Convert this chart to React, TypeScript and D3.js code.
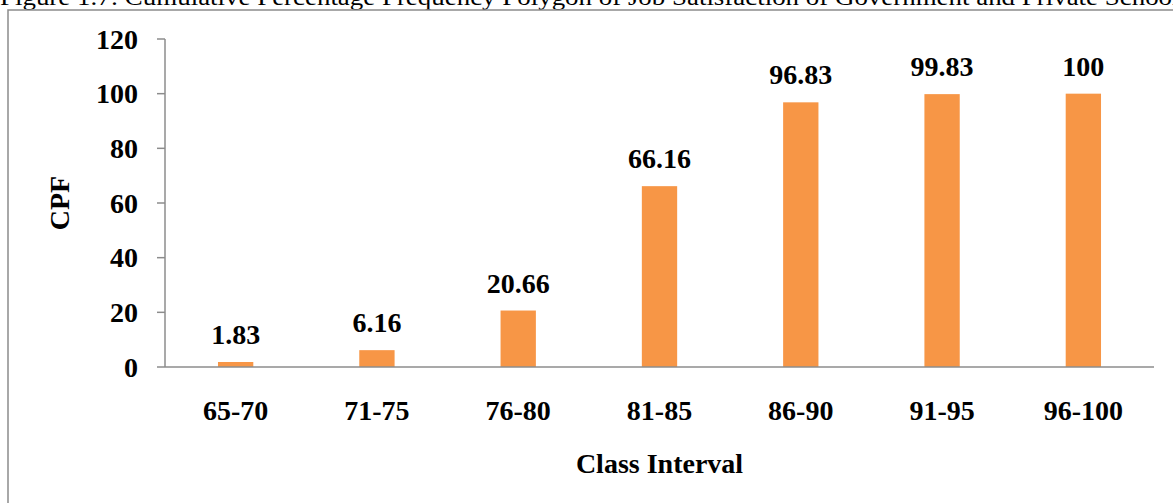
import React from "react";
import * as d3 from "d3";

const categories = ["65-70", "71-75", "76-80", "81-85", "86-90", "91-95", "96-100"];
const values = [1.83, 6.16, 20.66, 66.16, 96.83, 99.83, 100];
const valueLabels = ["1.83", "6.16", "20.66", "66.16", "96.83", "99.83", "100"];
const yTicks = [0, 20, 40, 60, 80, 100, 120];
const titleText =
  "Figure 1.7: Cumulative Percentage Frequency Polygon of Job Satisfaction of Government and Private Schools";
const xTitle = "Class Interval";
const yTitle = "CPF";

const W = 1173;
const H = 503;
const left = 165;
const right = 1154;
const top = 39;
const bottom = 367;
const font = "'Liberation Serif', 'Times New Roman', serif";
const axisColor = "#8c8c8c";
const barColor = "#F79646";

export default function App() {
  const x = d3
    .scaleBand<string>()
    .domain(categories)
    .range([left, right])
    .paddingInner(0.75)
    .paddingOuter(0.375);
  const y = d3.scaleLinear().domain([0, 120]).range([bottom, top]);

  return (
    <svg
      width={W}
      height={H}
      style={{ position: "absolute", left: 0, top: 0, background: "#fff" }}
      fontFamily={font}
    >
      <rect x={0} y={0} width={W} height={H} fill="#fff" />
      <text x={0} y={5} fontSize={24} fill="#000" textLength={1190} lengthAdjust="spacingAndGlyphs">
        {titleText}
      </text>
      <rect x={8} y={10} width={W + 20} height={H + 20} fill="none" stroke={axisColor} strokeWidth={1.5} />

      {/* y axis */}
      <line x1={left} x2={left} y1={y(120)} y2={y(0)} stroke={axisColor} strokeWidth={1.5} />
      {yTicks.map((t) => (
        <g key={t}>
          <line x1={left - 8} x2={left} y1={y(t)} y2={y(t)} stroke={axisColor} strokeWidth={1.5} />
          <text
            x={138}
            y={y(t) + 9.5}
            textAnchor="end"
            fontSize={28}
            fontWeight="bold"
            fill="#000"
          >
            {t}
          </text>
        </g>
      ))}

      {/* bars */}
      {categories.map((c, i) => (
        <g key={c}>
          <rect
            x={x(c)!}
            y={y(values[i])}
            width={x.bandwidth()}
            height={y(0) - y(values[i])}
            fill={barColor}
          />
          <text
            x={x(c)! + x.bandwidth() / 2}
            y={y(values[i]) - 18}
            textAnchor="middle"
            fontSize={28}
            fontWeight="bold"
            fill="#000"
          >
            {valueLabels[i]}
          </text>
          <text
            x={x(c)! + x.bandwidth() / 2}
            y={420}
            textAnchor="middle"
            fontSize={28}
            fontWeight="bold"
            fill="#000"
          >
            {c}
          </text>
        </g>
      ))}

      {/* x axis */}
      <line x1={left} x2={right} y1={y(0)} y2={y(0)} stroke={axisColor} strokeWidth={1.5} />

      <text
        x={(left + right) / 2}
        y={473}
        textAnchor="middle"
        fontSize={28}
        fontWeight="bold"
        fill="#000"
      >
        {xTitle}
      </text>
      <text
        transform={`translate(69, ${(top + bottom) / 2}) rotate(-90)`}
        textAnchor="middle"
        fontSize={28}
        fontWeight="bold"
        fill="#000"
      >
        {yTitle}
      </text>
    </svg>
  );
}
